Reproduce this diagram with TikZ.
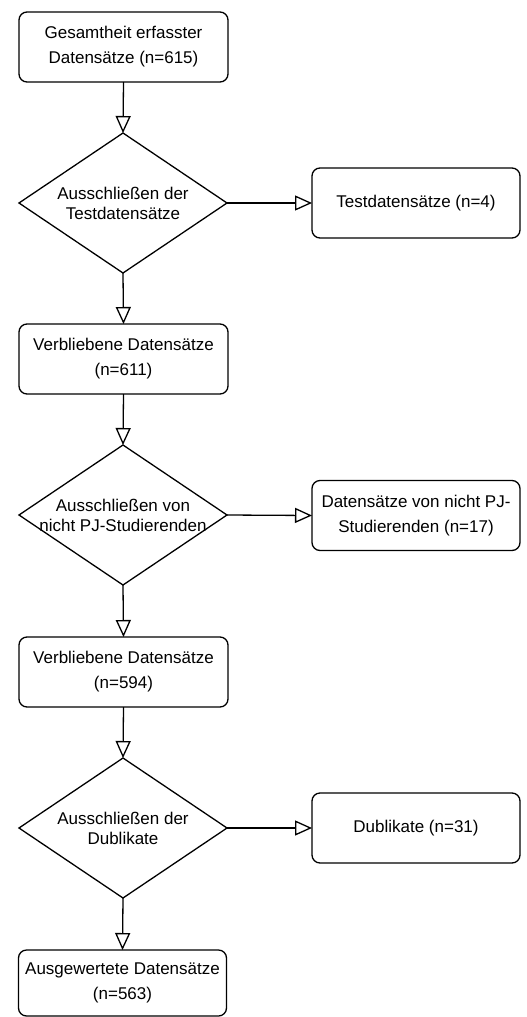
\documentclass[tikz,border=0pt]{standalone}
\usepackage{fontspec}
\setmainfont{Liberation Sans}
\usetikzlibrary{shapes.geometric,arrows.meta}
\begin{document}
\begin{tikzpicture}[x=1pt,y=-1pt,
  every node/.style={inner sep=0pt,outer sep=0pt},
  box/.style={draw,line width=1.3pt,rounded corners=8pt,minimum width=209pt,minimum height=70pt,align=center,font=\fontsize{17}{25}\selectfont},
  dec/.style={draw,diamond,line width=1.3pt,minimum width=208pt,minimum height=140pt},
  dectext/.style={align=center,font=\fontsize{17}{20}\selectfont},
  conn/.style={line width=1.3pt,-{Triangle[open,length=17pt,width=15pt,line width=1.3pt]}}]
\useasboundingbox (0,0) rectangle (527,1017);
\node[box] (b1) at (123.5,47) {Gesamtheit erfasster\\Datensätze (n=615)};
\node[dec] (d1) at (123,203) {};
\node[dectext] (d1t) at (123,203) {Ausschließen der\\Testdatensätze};
\node[box,minimum width=208pt] (t1) at (416,203) {Testdatensätze (n=4)};
\node[box] (b2) at (123.5,359) {Verbliebene Datensätze\\(n=611)};
\node[dec] (d2) at (123,515) {};
\node[dectext] (d2t) at (123,515) {Ausschließen von\\nicht PJ-Studierenden};
\node[box,minimum width=208pt] (t2) at (416,515.5) {Datensätze von nicht PJ-\\Studierenden (n=17)};
\node[box] (b3) at (123.5,672) {Verbliebene Datensätze\\(n=594)};
\node[dec] (d3) at (123,828) {};
\node[dectext] (d3t) at (123,828) {Ausschließen der\\Dublikate};
\node[box,minimum width=208pt] (t3) at (416,828) {Dublikate (n=31)};
\node[box,minimum width=208pt,minimum height=66pt] (b4) at (122.5,983) {Ausgewertete Datensätze\\(n=563)};
\draw[conn] (b1.south) -- (d1.north);
\draw[conn] (d1.east) -- (t1.west);
\draw[conn] (d1.south) -- (b2.north);
\draw[conn] (b2.south) -- (d2.north);
\draw[conn] (d2.east) -- (t2.west);
\draw[conn] (d2.south) -- (b3.north);
\draw[conn] (b3.south) -- (d3.north);
\draw[conn] (d3.east) -- (t3.west);
\draw[conn] (d3.south) -- (b4.north);
\end{tikzpicture}
\end{document}
